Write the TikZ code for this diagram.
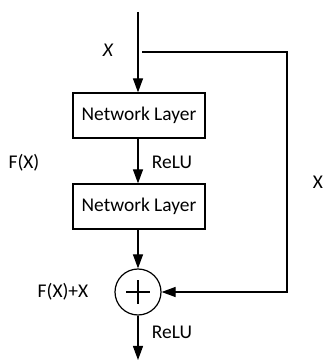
\documentclass[tikz,border=0pt]{standalone}
\usepackage{fontspec}
\setmainfont{Carlito}
\usepackage{tikz}
\usetikzlibrary{arrows.meta,positioning,calc}

\begin{document}
\begin{tikzpicture}[x=1bp,y=1bp,
    font=\fontsize{19.5}{23}\selectfont,
    layerbox/.style={draw, line width=1.2bp, minimum width=132bp, minimum height=45bp, inner sep=0pt},
    flow/.style={-{Triangle[length=14bp,width=10bp]}, line width=1.2bp}]
    \useasboundingbox (0,0) rectangle (324,360);

    % Input and output ends
    \coordinate (in) at (138,348);
    \coordinate (out) at (138,0);

    % Layers
    \node[layerbox] (layerA) at (139,244.5) {Network Layer};
    \node[layerbox] (layerB) at (139,153.5) {Network Layer};

    % Adder
    \node[draw, circle, line width=1.2bp, minimum size=46bp] (sum) at (138,68) {};
    \draw[line width=1.2bp] (sum.center) +(-12,0) -- +(12,0);
    \draw[line width=1.2bp] (sum.center) +(0,-12) -- +(0,12);

    % Main path
    \draw[flow] (in) -- (in |- layerA.north);
    \draw[flow] (layerA.south -| in) -- (layerB.north -| in);
    \draw[flow] (layerB.south -| in) -- (sum.north);
    \draw[flow] (sum.south) -- (out);

    % Identity shortcut
    \coordinate (skipA) at (142,308);
    \coordinate (skipB) at (287,308);
    \draw[flow] (skipA) -- (skipB) |- (sum.east);

    % Labels
    \node (lblX) at (108,310) {\itshape X};
    \node (lblF) at (24,197) {F(X)};
    \node (lblReluA) at (172,198) {ReLU};
    \node (lblXr) at (318,178) {X};
    \node (lblSum) at (63,68) {F(X)+X};
    \node (lblReluB) at (172,28) {ReLU};
\end{tikzpicture}
\end{document}
